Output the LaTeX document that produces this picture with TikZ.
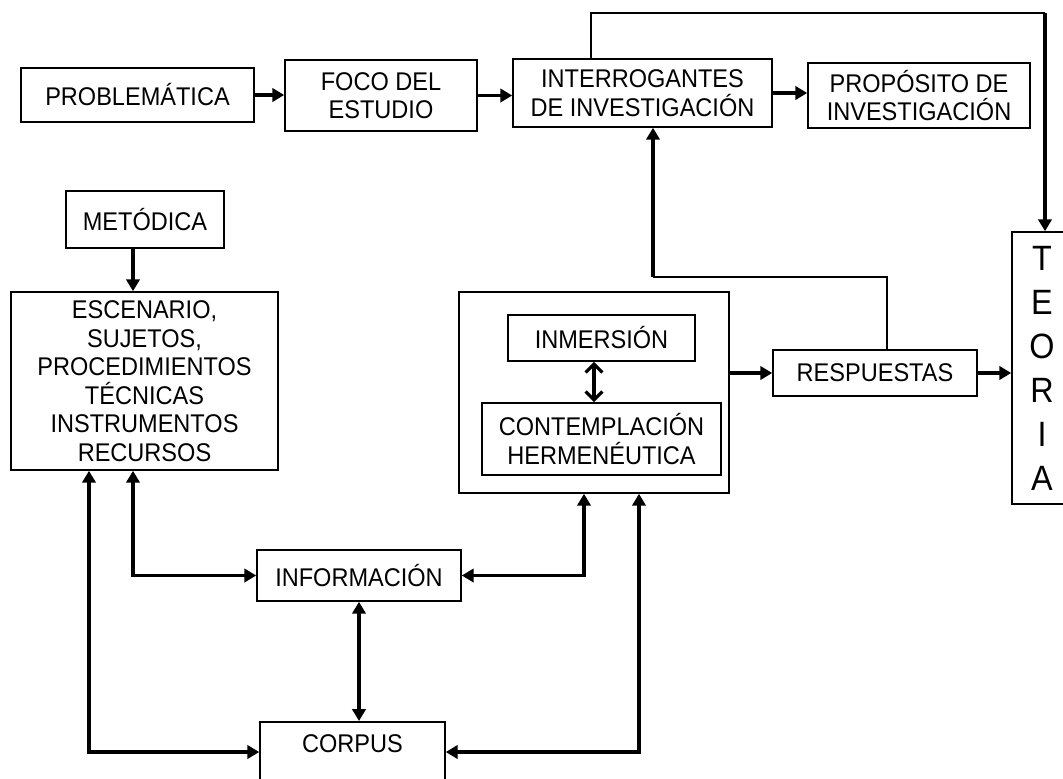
\documentclass[tikz,border=0pt]{standalone}
\usepackage{fontspec}
\setmainfont{Liberation Sans}[FakeStretch=0.92]
\usetikzlibrary{arrows.meta}
\newcommand{\pxu}{0.025cm}

\begin{document}
\begin{tikzpicture}[x=0.025cm, y=-0.025cm]
  \tikzset{
    box/.style={
      draw,
      line width=1.1pt,
      inner sep=0pt,
      align=center,
      font=\fontsize{18.2}{20.3}\selectfont,
    },
    flow/.style={
      line width=2.6pt,
      -{Triangle[length=8.5pt, width=9.5pt]},
    },
    bothway/.style={
      line width=2.6pt,
      {Triangle[length=8.5pt, width=9.5pt]}-{Triangle[length=8.5pt, width=9.5pt]},
    },
    thinlink/.style={
      line width=1.3pt,
    },
    mutual/.style={
      line width=2.3pt,
      {Straight Barb[length=6pt, width=12pt]}-{Straight Barb[length=6pt, width=12pt]},
    }
  }

  \clip (0,0) rectangle (1063,778);
  \fill[white] (0,0) rectangle (1063,778);

  % Top row
  \node[box, minimum width=233*\pxu, minimum height=54*\pxu] (prob) at (137.5,95) {PROBLEMÁTICA};
  \node[box, minimum width=192*\pxu, minimum height=71*\pxu] (foco) at (381,95.5) {FOCO DEL\\ESTUDIO};
  \node[box, minimum width=259*\pxu, minimum height=68*\pxu] (interr) at (642.5,93) {INTERROGANTES\\DE INVESTIGACIÓN};
  \node[box, minimum width=222*\pxu, minimum height=65*\pxu] (prop) at (919,95.5) {PROPÓSITO DE\\INVESTIGACIÓN};
  \node[box, minimum width=60*\pxu, minimum height=272*\pxu, font=\fontsize{25}{31.3}\selectfont] (teoria) at (1042,368) {T\\E\\O\\R\\I\\A};

  % Method side
  \node[box, minimum width=158*\pxu, minimum height=57*\pxu] (metodica) at (145,219.5) {METÓDICA};
  \node[box, minimum width=267*\pxu, minimum height=178*\pxu] (escen) at (144.5,381) {ESCENARIO,\\SUJETOS,\\PROCEDIMIENTOS\\TÉCNICAS\\INSTRUMENTOS\\RECURSOS};

  % Hermeneutic frame
  \node[box, minimum width=270*\pxu, minimum height=201*\pxu] (marco) at (594,392.5) {};
  \node[box, minimum width=187*\pxu, minimum height=46*\pxu] (inmer) at (601.5,338) {INMERSIÓN};
  \node[box, minimum width=239*\pxu, minimum height=72*\pxu] (contem) at (601.5,439) {CONTEMPLACIÓN\\HERMENÉUTICA};
  \node[box, minimum width=204*\pxu, minimum height=46*\pxu] (resp) at (875,373) {RESPUESTAS};

  % Bottom
  \node[box, minimum width=204*\pxu, minimum height=51*\pxu] (info) at (359,575.5) {INFORMACIÓN};
  \node[box, minimum width=185*\pxu, anchor=north, inner ysep=9pt, text height=13pt, text depth=50pt] (corpus) at (352.5,721) {CORPUS};

  % Turning points
  \coordinate (xa) at (89,0);
  \coordinate (xb) at (133,0);
  \coordinate (xc) at (584,0);
  \coordinate (xd) at (639,0);
  \coordinate (ylow) at (0,752);
  \coordinate (xtop) at (591,0);
  \coordinate (ctop) at (1045,13);
  \coordinate (xresp) at (887,0);
  \coordinate (cret) at (653,277);

  % Top row arrows
  \draw[flow] (prob.east) -- (foco.west |- prob.east);
  \draw[flow] (foco.east) -- (interr.west |- foco.east);
  \draw[flow] (interr.east) -- (prop.west |- interr.east);
  \draw[thinlink] (interr.north -| xtop) |- (ctop);
  \draw[flow] (ctop) -- (teoria.north -| ctop);

  % Method
  \draw[flow] (metodica.south -| xb) -- (escen.north -| xb);

  % Answers
  \draw[mutual] (inmer.south -| marco.center) -- (contem.north -| marco.center);
  \draw[flow] (marco.east |- resp.west) -- (resp.west);
  \draw[flow] (resp.east) -- (teoria.west |- resp.east);
  \draw[thinlink] (resp.north -| xresp) |- (cret);
  \draw[flow] (cret) -- (interr.south -| cret);

  % Information and corpus
  \draw[bothway] (escen.south -| xb) |- (info.west);
  \draw[bothway] (escen.south -| xa) |- (corpus.west |- ylow);
  \draw[bothway] (marco.south -| xc) |- (info.east);
  \draw[bothway] (marco.south -| xd) |- (corpus.east |- ylow);
  \draw[bothway] (info.south) -- (info.south |- corpus.north);
\end{tikzpicture}
\end{document}
